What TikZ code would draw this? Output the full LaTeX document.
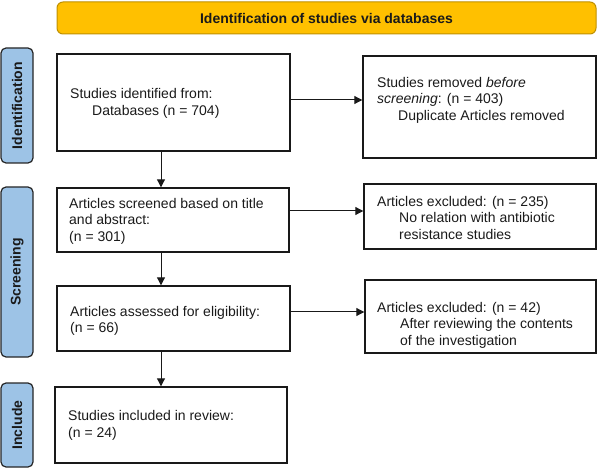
\documentclass[tikz,border=0pt]{standalone}
\usepackage{fontspec}
\setmainfont{Liberation Sans}
\usetikzlibrary{arrows.meta}
\definecolor{gold}{HTML}{FFC000}
\definecolor{goldline}{HTML}{BF9000}
\definecolor{sideblue}{HTML}{9DC3E6}
\definecolor{txt}{HTML}{1A1A1A}
\begin{document}
\begin{tikzpicture}[x=1pt,y=-1pt,
  box/.style={draw=black!90, line width=1.4pt, rectangle, inner sep=0},
  sidebox/.style={draw=black!85, fill=sideblue, line width=1.2pt, rounded corners=5pt, minimum width=32pt, inner sep=0},
  sidetext/.style={rotate=90, inner sep=0, font=\fontsize{14}{16}\selectfont\bfseries, text=txt},
  body/.style={anchor=west, align=left, inner sep=0, font=\fontsize{14}{16.5}\selectfont, text=txt},
  arr/.style={line width=1pt, draw=black!90, -{Triangle[length=8pt,width=8pt]}}]
\useasboundingbox (0,0) rectangle (598,468);

% banner
\node[draw=goldline, fill=gold, line width=1pt, rounded corners=6pt, minimum width=539pt, minimum height=32pt, inner sep=0,
      font=\fontsize{14}{16}\selectfont\bfseries, text=txt] (ban) at (326.5,18) {Identification of studies via databases};

% side labels
\node[sidebox, minimum height=115pt] (sid) at (17,105.5) {};
\node[sidetext] (sidt) at (sid.center) {Identification};
\node[sidebox, minimum height=170pt] (sscr) at (17,272) {};
\node[sidetext] (sscrt) at (sscr.center) {Screening};
\node[sidebox, minimum height=84pt] (sinc) at (17,425) {};
\node[sidetext] (sinct) at (sinc.center) {Include};

% boxes
\node[box, minimum width=233pt, minimum height=97pt] (b1) at (173.5,102.5) {};
\node[box, minimum width=233pt, minimum height=102pt] (r1) at (479.5,107) {};
\node[box, minimum width=232pt, minimum height=64pt] (b2) at (173,220) {};
\node[box, minimum width=232pt, minimum height=65pt] (r2) at (480,216.5) {};
\node[box, minimum width=233pt, minimum height=65pt] (b3) at (173.5,318.5) {};
\node[box, minimum width=231pt, minimum height=73pt] (r3) at (480.5,316.5) {};
\node[box, minimum width=232pt, minimum height=76pt] (b4) at (171,425) {};

% texts
\node[body] (t1) at (70,103.5) {Studies identified from:\\\hspace*{22pt}Databases (n = 704)};
\node[body] (tr1) at (377,100) {Studies removed \textit{before}\\\textit{screening}: (n = 403)\\\hspace*{21pt}Duplicate Articles removed};
\node[body] (t2) at (69,221) {Articles screened based on title\\and abstract:\\(n = 301)};
\node[body] (tr2) at (377,217.5) {Articles excluded: (n = 235)\\\hspace*{22pt}No relation with antibiotic\\\hspace*{22pt}resistance studies};
\node[body] (t3) at (70,321) {Articles assessed for eligibility:\\(n = 66)};
\node[body] (tr3) at (377,325) {Articles excluded: (n = 42)\\\hspace*{23pt}After reviewing the contents\\\hspace*{23pt}of the investigation};
\node[body] (t4) at (68,425.5) {Studies included in review:\\(n = 24)};

% horizontal arrows
\path (b1.east) ++(0,-2.5) coordinate (h1);
\draw[arr] (h1) -- (h1 -| r1.west);
\path (b2.east) ++(0,-9) coordinate (h2);
\draw[arr] (h2) -- (h2 -| r2.west);
\path (b3.east) ++(0,-6.5) coordinate (h3);
\draw[arr] (h3) -- (h3 -| r3.west);

% vertical arrows
\path (b1.south) ++(-12.5,0) coordinate (v1);
\draw[arr] (v1) -- (v1 |- b2.north);
\path (b2.south) ++(-12,0) coordinate (v2);
\draw[arr] (v2) -- (v2 |- b3.north);
\path (b3.south) ++(-12.5,0) coordinate (v3);
\draw[arr] (v3) -- (v3 |- b4.north);
\end{tikzpicture}
\end{document}
